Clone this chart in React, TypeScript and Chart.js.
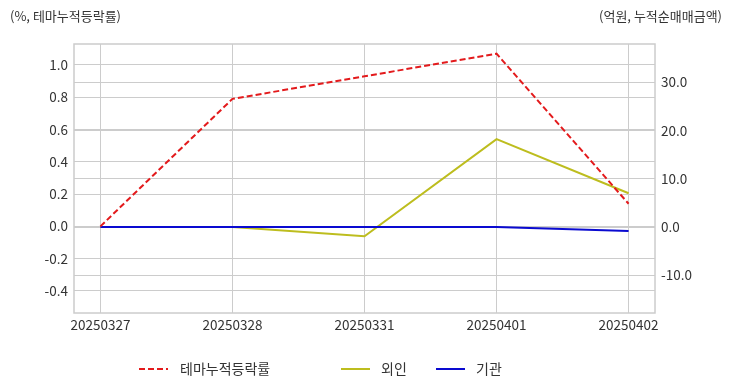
import React, { useEffect, useRef } from "react";
import { Chart, registerables } from "chart.js";

Chart.register(...registerables);

const categories = ["20250327", "20250328", "20250331", "20250401", "20250402"];
const themeReturn = [0.0, 0.79, 0.93, 1.07, 0.14];
const foreign = [0.0, 0.0, -1.9, 18.2, 7.0];
const institution = [0.0, 0.0, 0.0, 0.0, -0.8];
const leftTicks = [-0.4, -0.2, 0.0, 0.2, 0.4, 0.6, 0.8, 1.0];
const rightTicks = [-10, 0, 10, 20, 30];
const leftTitle = "(%, 테마누적등락률)";
const rightTitle = "(억원, 누적순매매금액)";
const seriesNames = ["테마누적등락률", "외인", "기관"];

const FONT = "'Noto Sans CJK KR', 'Noto Sans', sans-serif";
const TEXT = "#333333";
const GRID = "#cccccc";

const toPts = (arr: number[]) => arr.map((v, i) => ({ x: i, y: v }));

const framePlugin = {
  id: "frame",
  afterDraw(chart: any) {
    const { ctx, chartArea: a } = chart;
    ctx.save();
    ctx.strokeStyle = GRID;
    ctx.lineWidth = 1.5;
    ctx.strokeRect(a.left, a.top, a.right - a.left, a.bottom - a.top);
    ctx.fillStyle = TEXT;
    ctx.font = "13px " + FONT;
    ctx.textBaseline = "middle";
    ctx.textAlign = "left";
    ctx.fillText(leftTitle, 10, 16);
    ctx.textAlign = "right";
    ctx.fillText(rightTitle, 722, 16);
    // legend
    const items = [
      { x: 139, tx: 180 },
      { x: 341, tx: 381 },
      { x: 436, tx: 476 },
    ];
    const y = 369;
    ctx.font = "14px " + FONT;
    ctx.textAlign = "left";
    chart.data.datasets.forEach((ds: any, i: number) => {
      const it = items[i];
      ctx.strokeStyle = ds.borderColor;
      ctx.lineWidth = ds.borderWidth;
      ctx.setLineDash(ds.borderDash || []);
      ctx.beginPath();
      ctx.moveTo(it.x, y);
      ctx.lineTo(it.x + 29, y);
      ctx.stroke();
      ctx.setLineDash([]);
      ctx.fillStyle = TEXT;
      ctx.fillText(seriesNames[i], it.tx, y);
    });
    ctx.restore();
  },
};

export default function App() {
  const ref = useRef<HTMLCanvasElement>(null);
  useEffect(() => {
    document.body.style.margin = "0";
    const chart = new Chart(ref.current!, {
      type: "line",
      data: {
        datasets: [
          {
            label: seriesNames[0],
            data: toPts(themeReturn),
            yAxisID: "y",
            borderColor: "#e31a1c",
            borderWidth: 2,
            borderDash: [6, 3],
            pointRadius: 0,
            fill: false,
            order: 0,
          },
          {
            label: seriesNames[1],
            data: toPts(foreign),
            yAxisID: "y1",
            borderColor: "#bdbd1e",
            borderWidth: 2,
            pointRadius: 0,
            fill: false,
            order: 2,
          },
          {
            label: seriesNames[2],
            data: toPts(institution),
            yAxisID: "y1",
            borderColor: "#0a0ad0",
            borderWidth: 2,
            pointRadius: 0,
            fill: false,
            order: 1,
          },
        ],
      },
      options: {
        animation: false,
        responsive: false,
        maintainAspectRatio: false,
        layout: { padding: { left: 0, right: 0, top: 44, bottom: 49 } },
        plugins: { legend: { display: false }, tooltip: { enabled: false } },
        scales: {
          x: {
            type: "linear",
            min: -0.2,
            max: 4.2,
            afterBuildTicks: (s: any) => {
              s.ticks = categories.map((_, i) => ({ value: i }));
            },
            afterFit: (s: any) => {
              s.height = 30;
            },
            ticks: {
              callback: (v: any) => categories[v] ?? "",
              color: TEXT,
              font: { family: FONT, size: 13.5 },
              padding: 4,
              maxRotation: 0,
              autoSkip: false,
            },
            grid: { color: GRID, lineWidth: 1, drawTicks: false },
            border: { display: false },
          },
          y: {
            position: "left",
            min: -0.537,
            max: 1.13,
            afterBuildTicks: (s: any) => {
              s.ticks = leftTicks.map((v) => ({ value: v }));
            },
            afterFit: (s: any) => {
              s.width = 74;
            },
            ticks: {
              callback: (v: any) => Number(v).toFixed(1),
              color: TEXT,
              font: { family: FONT, size: 13.5 },
              padding: 6,
            },
            grid: { color: GRID, lineWidth: 1, drawTicks: false },
            border: { display: false },
          },
          y1: {
            position: "right",
            min: -17.8,
            max: 37.9,
            afterBuildTicks: (s: any) => {
              s.ticks = rightTicks.map((v) => ({ value: v }));
            },
            afterFit: (s: any) => {
              s.width = 77;
            },
            ticks: {
              callback: (v: any) => Number(v).toFixed(1),
              color: TEXT,
              font: { family: FONT, size: 13.5 },
              padding: 6,
            },
            grid: { color: GRID, lineWidth: 1, drawTicks: false },
            border: { display: false },
          },
        },
      },
      plugins: [framePlugin],
    } as any);
    return () => chart.destroy();
  }, []);
  return (
    <div style={{ width: 732, height: 392, background: "#fff" }}>
      <canvas ref={ref} width={732} height={392} style={{ display: "block" }} />
    </div>
  );
}
